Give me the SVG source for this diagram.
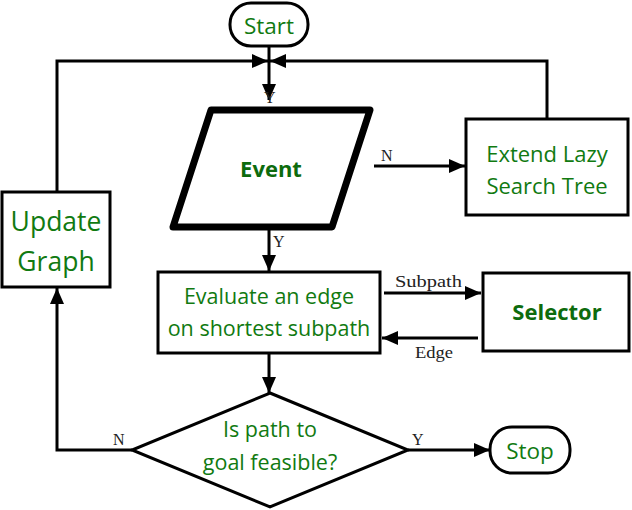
<svg xmlns="http://www.w3.org/2000/svg" width="632" height="510" viewBox="0 0 632 510">
<defs>
<marker id="ah" markerUnits="userSpaceOnUse" markerWidth="16" markerHeight="14" refX="16" refY="7" orient="auto">
<path d="M0,0 L16,7 L0,14 z" fill="#000"/>
</marker>
</defs>
<style>
.box{fill:#fff;stroke:#000;stroke-width:3}
.t{font-family:"Open Sans","Noto Sans",sans-serif;fill:#117a11;text-anchor:middle}
.b{font-weight:bold;fill:#0d6b0d}
.lbl{font-family:"Liberation Serif","DejaVu Serif",serif;font-size:16px;fill:#222}
.c{fill:none;stroke:#000;stroke-width:3;marker-end:url(#ah)}
</style>
<rect width="632" height="510" fill="#fff"/>
<g id="connectors">
<path class="c" d="M269,47 V100"/>
<path class="c" d="M57,192 V61 H268"/>
<path class="c" d="M547,118 V61 H270"/>
<path class="c" d="M374,166 H465"/>
<path class="c" d="M269,229 V271"/>
<path class="c" d="M384,293 H481"/>
<path class="c" d="M478,338 H382"/>
<path class="c" d="M269,353 V393"/>
<path class="c" d="M132,450 H57 V288"/>
<path class="c" d="M408,450 H490"/>
<text class="lbl" x="264" y="103">Y</text>
<text class="lbl" x="381" y="161">N</text>
<text class="lbl" x="273" y="247">Y</text>
<text class="lbl" x="395" y="287" textLength="67" lengthAdjust="spacingAndGlyphs">Subpath</text>
<text class="lbl" x="415" y="358" textLength="38" lengthAdjust="spacingAndGlyphs">Edge</text>
<text class="lbl" x="113" y="445">N</text>
<text class="lbl" x="412" y="445">Y</text>
</g>
<g id="start">
<rect class="box" x="230" y="3" width="78" height="43" rx="21"/>
<text class="t" x="269" y="34" font-size="22.5">Start</text>
</g>
<g id="event">
<path d="M211,110 H370 L332,227 H173 Z" fill="#fff" stroke="#000" stroke-width="7" stroke-linejoin="round"/>
<text class="t b" x="271" y="177" font-size="22">Event</text>
</g>
<g id="extend">
<rect class="box" x="466" y="119" width="162" height="96"/>
<text class="t" x="547" y="162" font-size="22">Extend Lazy</text>
<text class="t" x="547" y="194" font-size="22">Search Tree</text>
</g>
<g id="update">
<rect class="box" x="2" y="192" width="108" height="95"/>
<text class="t" x="56" y="231" font-size="26.5">Update</text>
<text class="t" x="56" y="271" font-size="26.5">Graph</text>
</g>
<g id="evaluate">
<rect class="box" x="158" y="272" width="222" height="81"/>
<text class="t" x="269" y="304" font-size="21.5">Evaluate an edge</text>
<text class="t" x="269" y="336" font-size="21.5">on shortest subpath</text>
</g>
<g id="selector">
<rect class="box" x="483" y="273" width="146" height="78"/>
<text class="t b" x="557" y="320" font-size="22">Selector</text>
</g>
<g id="decision">
<path d="M270,393 L408,450 L270,507 L132,450 Z" fill="#fff" stroke="#000" stroke-width="3"/>
<text class="t" x="270" y="437" font-size="21.5">Is path to</text>
<text class="t" x="270" y="470" font-size="21.5">goal feasible?</text>
</g>
<g id="stop">
<rect class="box" x="490" y="427" width="80" height="46" rx="22"/>
<text class="t" x="530" y="459" font-size="22.5">Stop</text>
</g>
</svg>
